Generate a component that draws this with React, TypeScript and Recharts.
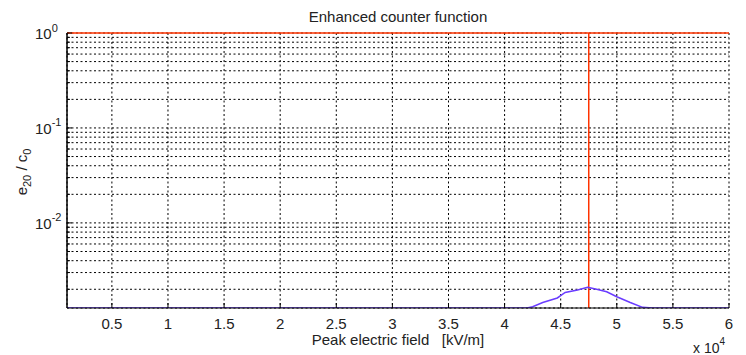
import { LineChart, Line, XAxis, YAxis, CartesianGrid, ReferenceLine } from "recharts";

// peak electric field [V/m] and e20/c0
const fieldValues = [1000, 42000, 42500, 43400, 44700, 45400, 46500, 47400, 48200, 49100, 50000, 51200, 52300, 53200, 60000];
const counterValues = [0.00127, 0.00127, 0.00131, 0.00145, 0.00162, 0.00185, 0.00197, 0.0021, 0.002, 0.00188, 0.00167, 0.00145, 0.00129, 0.00127, 0.00127];
const thresholdField = 47500;

const xTicks = [5000, 10000, 15000, 20000, 25000, 30000, 35000, 40000, 45000, 50000, 55000, 60000];
const yTicks = [
  0.002, 0.003, 0.004, 0.005, 0.006, 0.007, 0.008, 0.009,
  0.01, 0.02, 0.03, 0.04, 0.05, 0.06, 0.07, 0.08, 0.09,
  0.1, 0.2, 0.3, 0.4, 0.5, 0.6, 0.7, 0.8, 0.9, 1,
];
const xDomain = [1000, 60000];
const yDomain = [0.00127, 1];

const data = fieldValues.map((f, i) => ({ field: f, ratio: counterValues[i] }));

const FONT = "'Liberation Sans', Arial, sans-serif";
const INK = "#222";

const isDecade = (v: number) => Math.abs(Math.log10(v) - Math.round(Math.log10(v))) < 1e-9;

const BottomTick = (props: any) => {
  const { x, y, payload } = props;
  return (
    <g>
      <line x1={x} y1={y} x2={x} y2={y - 5} stroke="#000" />
      <text x={x} y={y + 21} textAnchor="middle" fontSize={15} fill={INK} fontFamily={FONT}>
        {String(payload.value / 10000)}
      </text>
    </g>
  );
};

const TopTick = (props: any) => {
  const { x, y } = props;
  return <line x1={x} y1={y} x2={x} y2={y + 5} stroke="#000" />;
};

const LeftTick = (props: any) => {
  const { x, y, payload } = props;
  const major = isDecade(payload.value);
  return (
    <g>
      <line x1={x} y1={y} x2={x + (major ? 5 : 3)} y2={y} stroke="#000" />
      {major && (
        <text x={x - 32} y={y + 6} fontSize={15} fill={INK} fontFamily={FONT}>
          10
          <tspan dy={-7.5} fontSize={11}>
            {Math.round(Math.log10(payload.value))}
          </tspan>
        </text>
      )}
    </g>
  );
};

const RightTick = (props: any) => {
  const { x, y, payload } = props;
  const major = isDecade(payload.value);
  return <line x1={x} y1={y} x2={x - (major ? 5 : 3)} y2={y} stroke="#000" />;
};

export default function App() {
  return (
    <div style={{ position: "absolute", left: 0, top: 0, background: "#fff" }}>
      <LineChart width={746} height={355} data={data} margin={{ top: 33, right: 17, bottom: 0, left: 0 }}>
        <CartesianGrid stroke="#000" strokeDasharray="2 2.5" strokeWidth={1} />
        <XAxis
          dataKey="field"
          type="number"
          domain={xDomain}
          ticks={xTicks}
          interval={0}
          height={47}
          tickSize={0}
          tickMargin={0}
          axisLine={{ stroke: "#000" }}
          tick={<BottomTick />}
        />
        <XAxis
          xAxisId="top"
          orientation="top"
          dataKey="field"
          type="number"
          domain={xDomain}
          ticks={xTicks}
          interval={0}
          height={0}
          tickSize={0}
          tickMargin={0}
          axisLine={false}
          tick={<TopTick />}
        />
        <YAxis
          dataKey="ratio"
          scale="log"
          type="number"
          domain={yDomain}
          allowDataOverflow
          ticks={yTicks}
          interval={0}
          width={67}
          tickSize={0}
          tickMargin={0}
          axisLine={{ stroke: "#000", strokeWidth: 1.5 }}
          tick={<LeftTick />}
        />
        <YAxis
          yAxisId="right"
          orientation="right"
          scale="log"
          type="number"
          domain={yDomain}
          allowDataOverflow
          ticks={yTicks}
          interval={0}
          width={0}
          tickSize={0}
          tickMargin={0}
          axisLine={{ stroke: "#000", strokeWidth: 1.5 }}
          tick={<RightTick />}
        />
        <ReferenceLine y={1} stroke="#ff3300" strokeWidth={1.5} />
        <ReferenceLine x={thresholdField} stroke="#ff3300" strokeWidth={1.5} />
        <Line
          dataKey="ratio"
          type="linear"
          stroke="#6a3cff"
          strokeWidth={1.5}
          dot={false}
          isAnimationActive={false}
        />
        <text x={398} y={21.5} textAnchor="middle" fontSize={15} fill={INK} fontFamily={FONT}>
          Enhanced counter function
        </text>
        <text x={398} y={345} textAnchor="middle" fontSize={15} fill={INK} fontFamily={FONT} xmlSpace="preserve">
          Peak electric field   [kV/m]
        </text>
        <text x={693} y={353} fontSize={14} fill={INK} fontFamily={FONT}>
          x 10
          <tspan dy={-8} fontSize={10}>4</tspan>
        </text>
        <text transform="translate(27,172) rotate(-90)" textAnchor="middle" fontSize={15} fill={INK} fontFamily={FONT}>
          e<tspan dy={4} fontSize={11}>20</tspan>
          <tspan dy={-4}> / c</tspan>
          <tspan dy={4} fontSize={11}>0</tspan>
        </text>
      </LineChart>
    </div>
  );
}
